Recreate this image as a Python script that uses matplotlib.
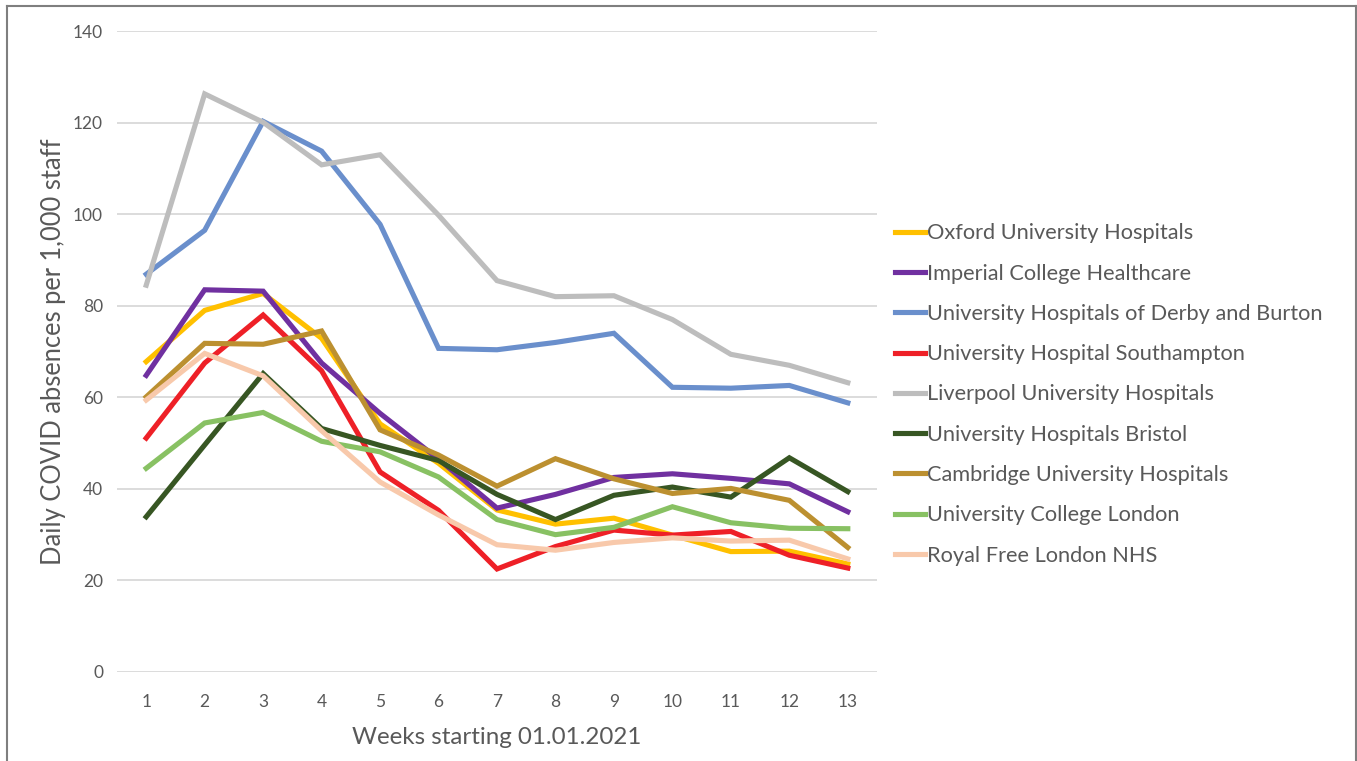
import matplotlib
matplotlib.use("Agg")
import matplotlib.pyplot as plt
from matplotlib.lines import Line2D

plt.rcParams['font.family'] = ['Lato', 'DejaVu Sans']

weeks = list(range(1, 14))

oxford = [67.8, 79, 82.7, 72.9, 54.2, 45.6, 35.4, 32.3, 33.6, 29.9, 26.3, 26.4, 23.6]
imperial = [64.8, 83.5, 83.2, 67.5, 56.5, 46.5, 35.8, 38.8, 42.5, 43.3, 42.3, 41.1, 35.0]
derby = [86.9, 96.5, 120.3, 113.8, 97.8, 70.7, 70.4, 72.0, 74.0, 62.2, 62.0, 62.6, 58.8]
southampton = [51.1, 67.5, 78.0, 65.8, 43.7, 35.3, 22.5, 27.4, 31.0, 29.9, 30.7, 25.5, 22.7]
liverpool = [84.5, 126.3, 120.1, 110.8, 113.0, 99.8, 85.5, 82.0, 82.2, 77.0, 69.4, 67.0, 63.2]
bristol = [33.9, 49.6, 65.2, 53.2, 49.5, 46.2, 38.8, 33.3, 38.6, 40.4, 38.2, 46.8, 39.4]
cambridge = [60.1, 71.8, 71.6, 74.5, 52.9, 47.4, 40.6, 46.6, 42.2, 39.0, 40.1, 37.5, 27.2]
ucl = [44.5, 54.4, 56.7, 50.4, 48.1, 42.6, 33.3, 30.0, 31.6, 36.1, 32.6, 31.4, 31.3]
royal_free = [59.4, 69.6, 64.7, 52.7, 41.5, 34.3, 27.8, 26.6, 28.3, 29.3, 28.6, 28.8, 24.7]

names = ["Oxford University Hospitals", "Imperial College Healthcare",
         "University Hospitals of Derby and Burton", "University Hospital Southampton",
         "Liverpool University Hospitals", "University Hospitals Bristol",
         "Cambridge University Hospitals", "University College London",
         "Royal Free London NHS"]
series = [oxford, imperial, derby, southampton, liverpool, bristol, cambridge, ucl, royal_free]
colors = ["#FFC000", "#7030A0", "#6A8FCC", "#EE2027", "#BDBDBD",
          "#375623", "#BC9030", "#88C163", "#F8C9AB"]

text_col = "#595959"

fig = plt.figure(figsize=(13.57, 7.61), dpi=100)
ax = fig.add_axes([0.0862, 0.117, 0.5601, 0.842])

for vals, name, c in zip(series, names, colors):
    ax.plot(weeks, vals, color=c, lw=3.7, label=name, solid_joinstyle='miter', zorder=3)

ax.set_xlim(0.5, 13.5)
ax.set_ylim(0, 140)
ax.set_xticks(weeks)
ax.set_yticks(range(0, 141, 20))
ax.grid(axis='y', color='#D9D9D9', lw=1.3, zorder=0)
ax.set_axisbelow(True)
for s in ax.spines.values():
    s.set_visible(False)
ax.tick_params(length=0, labelsize=12.5, colors=text_col, pad=10)
ax.tick_params(axis='x', pad=16)
ax.set_xlabel("Weeks starting 01.01.2021", fontsize=17.4, color=text_col, labelpad=12)
ax.set_ylabel("Daily COVID absences per 1,000 staff", fontsize=18.4, color=text_col, labelpad=5)

leg = fig.legend(loc='upper left', bbox_to_anchor=(0.6529, 0.718), frameon=False,
                 fontsize=15.7, labelcolor=text_col, handlelength=1.4,
                 handletextpad=0.08, labelspacing=0.93, borderaxespad=0)
for h in leg.legend_handles:
    h.set_linewidth(3.7)

# outer frame (no bottom edge visible)
fc = "#7F7F7F"
fig.add_artist(Line2D([0.0052, 0.0052], [0.0, 0.992], transform=fig.transFigure, color=fc, lw=1.5))
fig.add_artist(Line2D([0.0052, 0.999], [0.992, 0.992], transform=fig.transFigure, color=fc, lw=1.5))
fig.add_artist(Line2D([0.999, 0.999], [0.0, 0.992], transform=fig.transFigure, color=fc, lw=1.5))

fig.savefig("out.png", dpi=100)
